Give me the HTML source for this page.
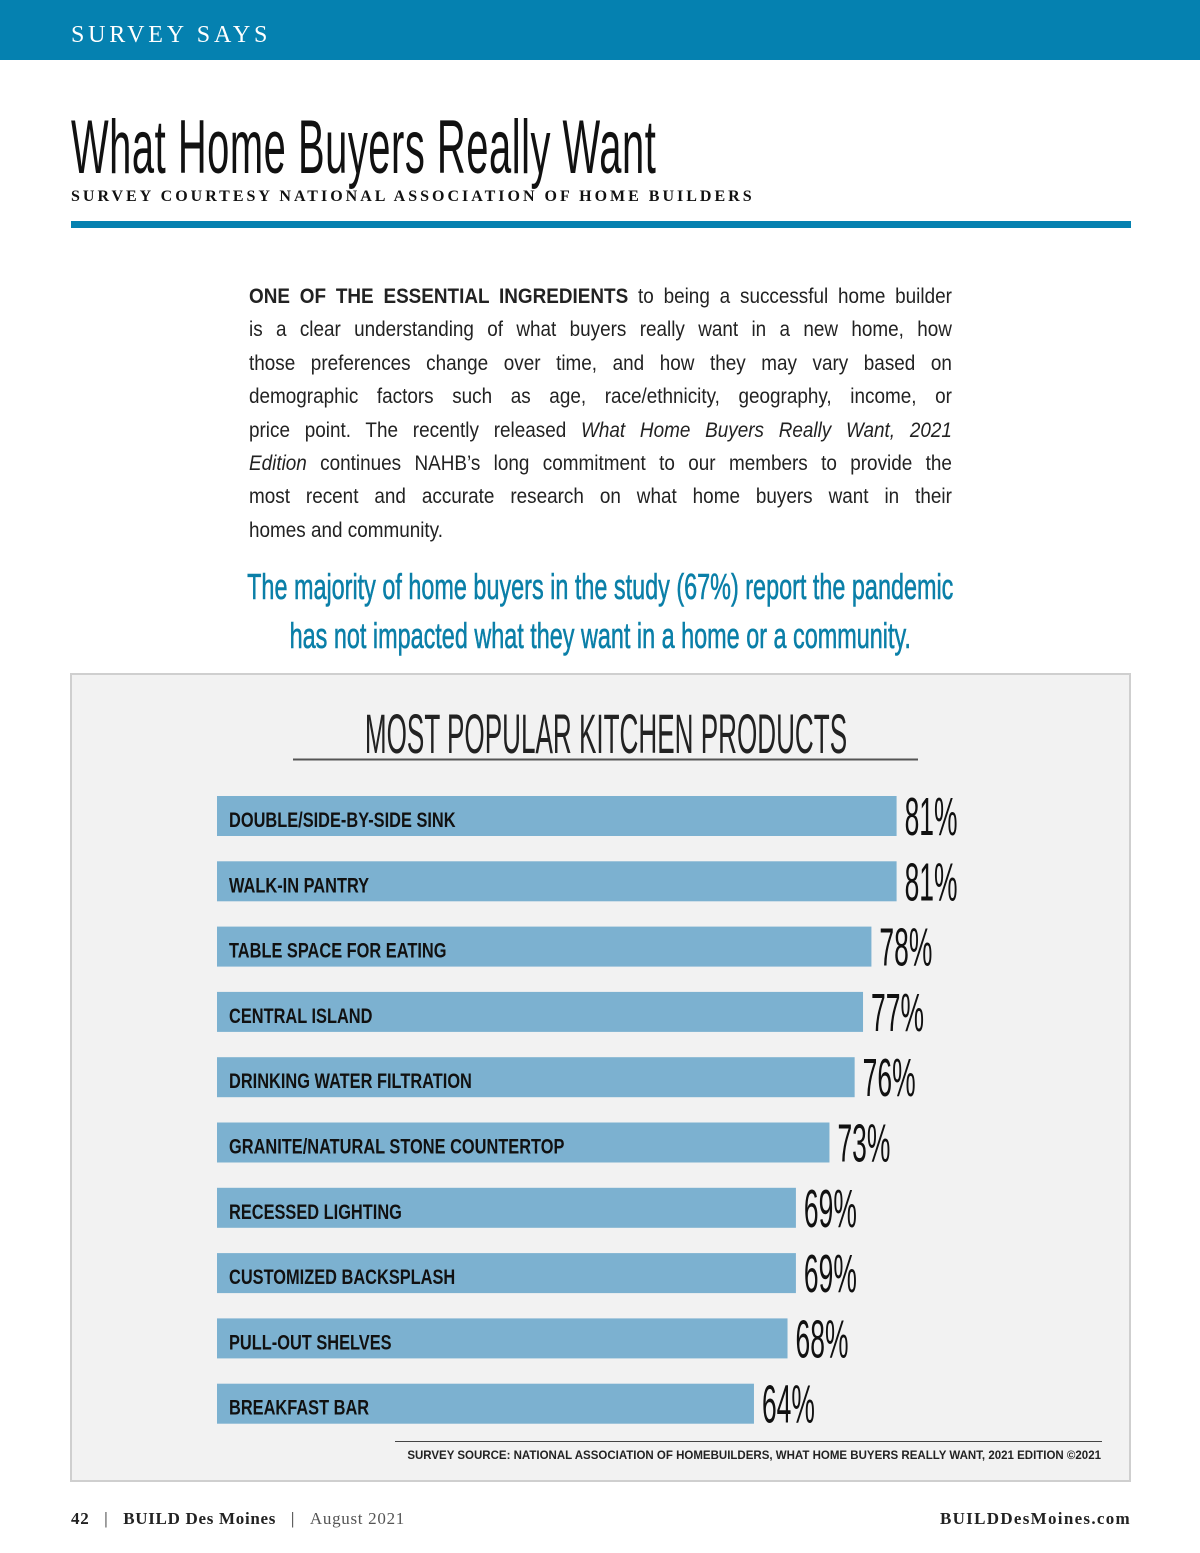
<!DOCTYPE html>
<html><head><meta charset="utf-8">
<style>
body{margin:0;width:1200px;height:1553px;position:relative;background:#fff;font-family:"Liberation Sans",sans-serif;overflow:hidden}
.abs{position:absolute;white-space:nowrap}
.cond{transform-origin:0 0;display:inline-block}
.ln{display:block;text-align:justify;text-align-last:justify;white-space:nowrap}
.ln.last{text-align-last:left}
</style></head><body>
<div class="abs" style="left:0;top:0;width:1200px;height:60px;background:#0581b0"></div>
<div class="abs" style="left:71px;top:22px;color:#fff;font-family:'Liberation Serif',serif;font-size:24px;letter-spacing:3.8px">SURVEY SAYS</div>
<div class="abs" style="left:71px;top:104px"><span class="cond" style="font-size:76px;transform:scaleX(0.525);color:#111;letter-spacing:1px">What Home Buyers Really Want</span></div>
<div class="abs" style="left:71px;top:188px;font-family:'Liberation Serif',serif;font-weight:bold;font-size:16px;letter-spacing:3px;color:#111">SURVEY COURTESY NATIONAL ASSOCIATION OF HOME BUILDERS</div>
<div class="abs" style="left:71px;top:221px;width:1060px;height:7px;background:#0581b0"></div>
<div class="abs" style="left:249px;top:280px;width:781px;font-size:21px;line-height:33.4px;color:#222;transform:scaleX(0.9);transform-origin:0 0">
<span class="ln"><b>ONE OF THE ESSENTIAL INGREDIENTS</b> to being a successful home builder</span>
<span class="ln">is a clear understanding of what buyers really want in a new home, how</span>
<span class="ln">those preferences change over time, and how they may vary based on</span>
<span class="ln">demographic factors such as age, race/ethnicity, geography, income, or</span>
<span class="ln">price point. The recently released <i>What Home Buyers Really Want, 2021</i></span>
<span class="ln"><i>Edition</i> continues NAHB’s long commitment to our members to provide the</span>
<span class="ln">most recent and accurate research on what home buyers want in their</span>
<span class="ln last">homes and community.</span>
</div>
<div class="abs" style="left:0;top:562px;width:1200px;text-align:center;color:#0a7fa8;font-size:36px;line-height:49px">
<span class="cond" style="transform:scaleX(0.65);transform-origin:50% 0;-webkit-text-stroke:0.6px #0a7fa8">The majority of home buyers in the study (67%) report the pandemic<br>has not impacted what they want in a home or a community.</span></div>
<svg class="abs" style="left:0;top:0" width="1200" height="1553" id="chart"></svg>
<div class="abs" style="left:71px;top:1509px;font-family:'Liberation Serif',serif;font-size:17px;letter-spacing:0.7px;color:#222"><b>42</b> &nbsp;&nbsp;| &nbsp;&nbsp;<b>BUILD Des Moines</b> &nbsp;&nbsp;| &nbsp;&nbsp;<span style="color:#555">August 2021</span></div>
<div class="abs" style="right:69px;top:1509px;font-family:'Liberation Serif',serif;font-size:17px;letter-spacing:1.3px;font-weight:bold;color:#222">BUILDDesMoines.com</div>
<script>
const categories=["DOUBLE/SIDE-BY-SIDE SINK","WALK-IN PANTRY","TABLE SPACE FOR EATING","CENTRAL ISLAND","DRINKING WATER FILTRATION","GRANITE/NATURAL STONE COUNTERTOP","RECESSED LIGHTING","CUSTOMIZED BACKSPLASH","PULL-OUT SHELVES","BREAKFAST BAR"];
const values=[81,81,78,77,76,73,69,69,68,64];
const valueLabels=["81%","81%","78%","77%","76%","73%","69%","69%","68%","64%"];
const svg=document.getElementById('chart');const NS='http://www.w3.org/2000/svg';
function mk(t,a){const e=document.createElementNS(NS,t);for(const k in a)e.setAttribute(k,a[k]);svg.appendChild(e);return e;}
const x0=217,pxPer=8.39;const xs=v=>v*pxPer;const ys=i=>796+i*65.3;
let p=mk('rect',{x:71,y:674,width:1059,height:807,fill:'#f2f2f2',stroke:'#cfcfcf','stroke-width':2});


let t=mk('text',{x:606,y:753,'text-anchor':'middle','font-size':56,fill:'#222',transform:'translate(606 0) scale(0.466 1) translate(-606 0)','font-family':'Liberation Sans, sans-serif'});t.textContent='MOST POPULAR KITCHEN PRODUCTS';


let l=mk('line',{x1:293,x2:918,y1:759.5,y2:759.5,stroke:'#555','stroke-width':2});


categories.forEach((c,i)=>{const y=ys(i);
 const r=mk('rect',{x:x0,y:y,width:xs(values[i]),height:40,fill:'#7cb1d0'});
 
 
 const tx=mk('text',{x:229,y:y+31,'font-size':21,'font-weight':'bold',fill:'#111',transform:`translate(229 0) scale(0.78 1) translate(-229 0)`});tx.textContent=c;
 
 
 const vx=x0+xs(values[i])+8;
 const vl=mk('text',{x:vx,y:y+39,'font-size':54,fill:'#111',transform:`translate(${vx} 0) scale(0.49 1) translate(${-vx} 0)`});vl.textContent=valueLabels[i];
 
 
});
let sl=mk('line',{x1:395,x2:1102,y1:1441.5,y2:1441.5,stroke:'#444','stroke-width':1});


let s=mk('text',{x:1101,y:1459,'text-anchor':'end','font-size':11.5,'font-weight':'bold',fill:'#222'});s.textContent='SURVEY SOURCE: NATIONAL ASSOCIATION OF HOMEBUILDERS, WHAT HOME BUYERS REALLY WANT, 2021 EDITION ©2021';


</script>
</body></html>
